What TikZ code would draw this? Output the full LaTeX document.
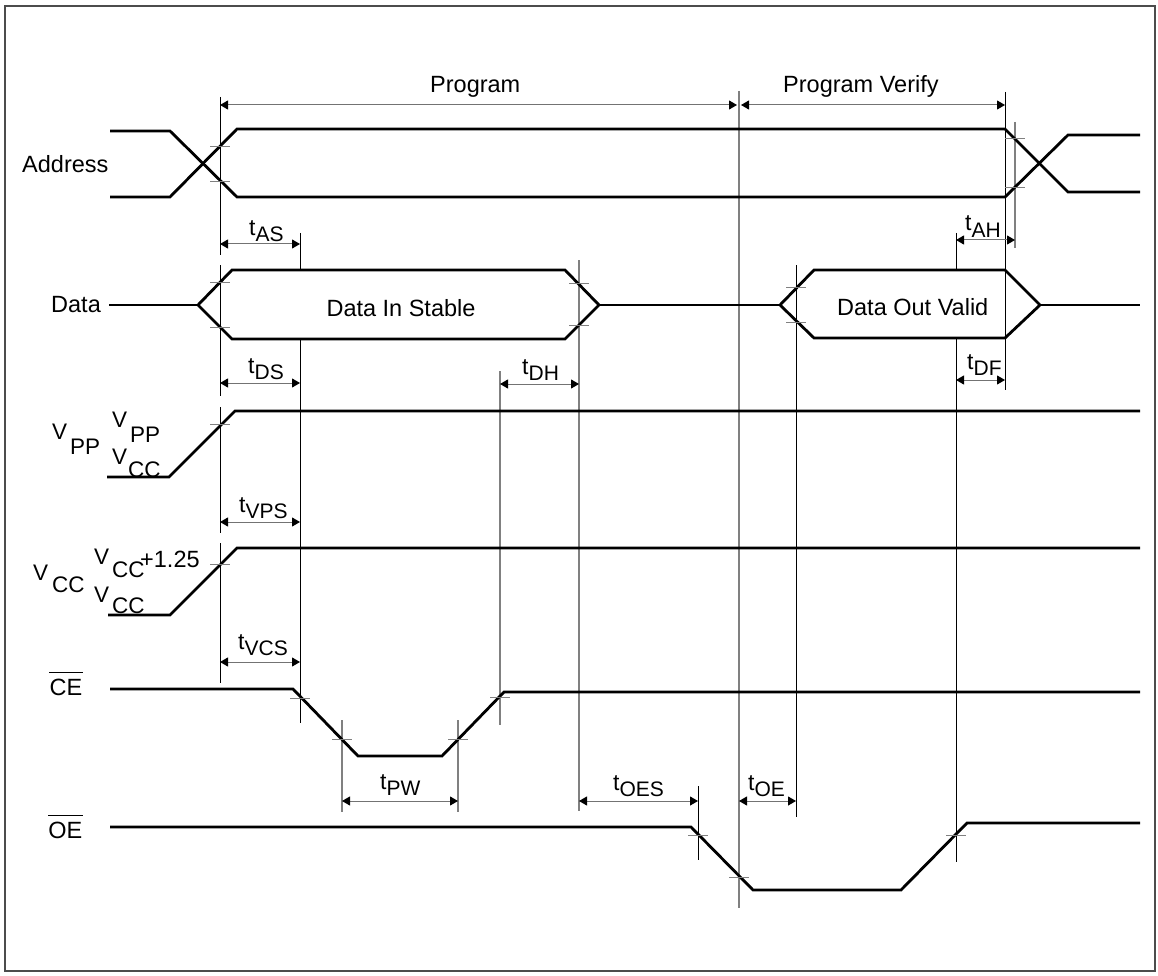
\documentclass[tikz,border=0pt]{standalone}
\usepackage{fontspec}
\setmainfont{Liberation Sans}
\usetikzlibrary{arrows.meta}
\newcommand\fsz[1]{\fontsize{#1}{#1}\selectfont}
\newcommand\tlab[1]{{\fsz{23}t}\raisebox{-6pt}{\fsz{21}#1}}
\newcommand\tk[2]{\draw[tick] (#1-10,#2) -- (#1+10,#2);}
\begin{document}
\begin{tikzpicture}[x=1pt,y=-1pt,
  sig/.style={line width=2.8pt, line join=miter, black},
  refk/.style={line width=1pt, black},
  refg/.style={line width=1.2pt, black!50},
  tick/.style={line width=1pt, black!50},
  dim/.style={line width=1pt, black!55, {Triangle[length=8pt,width=9pt,color=black]}-{Triangle[length=8pt,width=9pt,color=black]}},
  lab/.style={inner sep=0pt, anchor=base west, font=\fsz{23.5}},
  tl/.style={inner sep=0pt, anchor=base west},
  vl/.style={inner sep=0pt, anchor=base west, font=\fsz{22.5}},
]
\useasboundingbox (0,0) rectangle (1158,976);
\draw[line width=2pt, black!70] (5,6) rectangle (1155,971);

% ---- vertical reference lines
\draw[refk] (220,97) -- (220,255);
\draw[refk] (220,265) -- (220,396);
\draw[refk] (220,407) -- (220,533);
\draw[refk] (220,543) -- (220,683);
\draw[refk] (300,233) -- (300,270);
\draw[refk] (300,338) -- (300,723);
\draw[refg] (500,371) -- (500,725);
\draw[refg] (579,260) -- (579,811);
\draw[refg] (342,720) -- (342,812);
\draw[refg] (458,720) -- (458,812);
\draw[refk] (698,786) -- (698,860);
\draw[refg] (739,91) -- (739,908);
\draw[refk] (796,265) -- (796,817);
\draw[refk] (956,233) -- (956,270);
\draw[refk] (956,338) -- (956,862);
\draw[refk] (1005,92) -- (1005,390);
\draw[refg] (1015,122) -- (1015,248);

% ---- signals
\draw[sig] (110,131) -- (170,131) -- (237,197) -- (1005,197) -- (1068,135) -- (1140,135);
\draw[sig] (110,197) -- (170,197) -- (237,129) -- (1005,129) -- (1068,192) -- (1140,192);
\draw[sig] (109,305) -- (198,305);
\draw[sig] (198,305) -- (232,270) -- (565,270) -- (599,305) -- (565,339) -- (232,339) -- cycle;
\draw[sig] (599,305) -- (780,305);
\draw[sig] (780,305) -- (814,270) -- (1005,270) -- (1040,305) -- (1005,338) -- (814,338) -- cycle;
\draw[sig] (1040,305) -- (1140,305);
\draw[sig] (107,477) -- (169,477) -- (235,411) -- (1140,411);
\draw[sig] (108,615) -- (170,615) -- (237,548) -- (1140,548);
\draw[sig] (110,689) -- (293,689) -- (358,756) -- (442,756) -- (504,692) -- (1140,692);
\draw[sig] (110,827) -- (691,827) -- (753,890) -- (901,890) -- (967,823) -- (1140,823);

% ---- ticks
\tk{220}{147}\tk{220}{182}
\tk{1015}{139}\tk{1015}{188}
\tk{220}{282}\tk{220}{327}
\tk{579}{283}\tk{579}{325}
\tk{796}{287}\tk{796}{322}
\tk{220}{424}
\tk{220}{564}
\tk{300}{698}\tk{342}{739}\tk{458}{739}\tk{500}{697}
\tk{698}{835}\tk{739}{877}\tk{956}{835}

% ---- dimension arrows
\draw[dim] (220,105) -- (737,105);
\draw[dim] (741,105) -- (1005,105);
\draw[dim] (220,244) -- (300,244);
\draw[dim] (220,383) -- (300,383);
\draw[dim] (220,522) -- (300,522);
\draw[dim] (220,662) -- (300,662);
\draw[dim] (342,801) -- (458,801);
\draw[dim] (579,801) -- (698,801);
\draw[dim] (739,801) -- (796,801);
\draw[dim] (500,384) -- (579,384);
\draw[dim] (956,240) -- (1015,240);
\draw[dim] (956,380) -- (1005,380);

% ---- labels
\node[lab] (addr) at (22,173) {Address};
\node[lab] (data) at (51,312) {Data};
\node[lab] (prog) at (430,93) {Program};
\node[lab] (progv) at (783,93) {Program Verify};
\node[lab, anchor=base] (dis) at (401,316) {Data In Stable};
\node[lab] (dov) at (837,315) {Data Out Valid};
\node[lab, anchor=base east] (ce) at (82.5,695) {CE};
\draw[line width=1.2pt] ([yshift=6pt]ce.north west) -- ([yshift=6pt]ce.north east);
\node[lab, anchor=base east] (oe) at (82.5,838) {OE};
\draw[line width=1.2pt] ([yshift=6pt]oe.north west) -- ([yshift=6pt]oe.north east);

\node[tl] (tas) at (249,236) {\tlab{AS}};
\node[tl] (tds) at (248,373) {\tlab{DS}};
\node[tl] (tvps) at (239,512) {\tlab{VPS}};
\node[tl] (tvcs) at (238,649) {\tlab{VCS}};
\node[tl] (tpw) at (380,789) {\tlab{PW}};
\node[tl] (toes) at (613,790) {\tlab{OES}};
\node[tl] (toe) at (748,790) {\tlab{OE}};
\node[tl] (tdh) at (522,374) {\tlab{DH}};
\node[tl] (tah) at (965,231) {\tlab{AH}};
\node[tl] (tdf) at (967,369) {\tlab{DF}};

% ---- voltage labels
\node[vl] (vppV) at (52,439) {V};
\node[vl] (vppS) at (70,454) {PP};
\node[vl] (vppaV) at (112,427) {V};
\node[vl] (vppaS) at (130,442) {PP};
\node[vl] (vccaV) at (112,464) {V};
\node[vl] (vccaS) at (128,477) {CC};
\node[vl] (vccV) at (33,580) {V};
\node[vl] (vccS) at (52,592) {CC};
\node[vl] (vcchV) at (94,564) {V};
\node[vl] (vcchS) at (112,577) {CC};
\node[vl, font=\fsz{23.5}] (vcchN) at (140,567) {+1.25};
\node[vl] (vcclV) at (94,602) {V};
\node[vl] (vcclS) at (112,613) {CC};
\end{tikzpicture}
\end{document}
